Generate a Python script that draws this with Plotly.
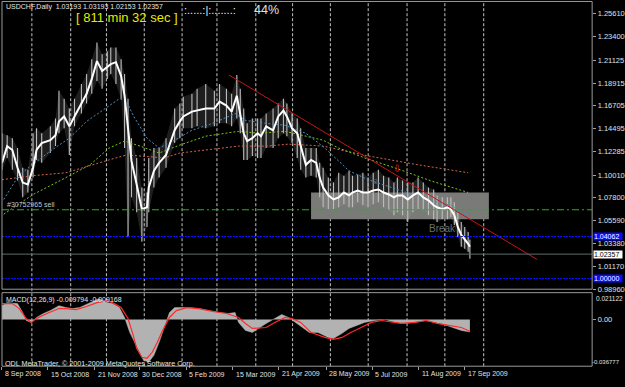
import plotly.graph_objects as go

W, H = 625, 387
def px(x): return x / W
def py(y): return 1 - y / H

# ---------------- data (bar numbers on x, prices on y) ----------------
bar_idx = [0,3,6,9,12,15,18,20,23,28,31,33,36,39,42,46,49,52,55,58,61,63,66,69,71,73,75,78,81,84,85,88,91,
           95,100,103,105,110,113,118,123,126,130,133,136,138,140,142,145,148,150,153,157,160,163,165,168,171,173,
           176,179,182,184,186,189,192,195,198,201,203,206,209,212,215,218,221,224,227,229,232,235,238,241,244,247,
           250,252,255,258,260,262,264,266,268,270,271]
close_ma = [1.1119,1.1281,1.1243,1.1071,1.0928,1.0909,1.1071,1.1243,1.1310,1.1338,
            1.1386,1.1520,1.1568,1.1472,1.1568,1.1692,1.1787,1.1931,1.2103,1.2007,
            1.2045,1.2074,1.2093,1.1959,1.1768,1.1453,1.1138,1.0909,1.0670,1.0689,
            1.0880,1.1042,1.1119,
            1.1195,1.1434,1.1520,1.1568,1.1615,1.1625,1.1644,1.1644,1.1711,1.1673,
            1.1615,1.1768,1.1577,1.1405,1.1329,1.1358,1.1405,1.1377,1.1472,1.1434,
            1.1568,1.1625,1.1568,1.1453,1.1405,1.1281,1.1100,1.1147,1.1119,1.0976,
            1.0880,1.0804,1.0765,1.0785,1.0832,1.0804,1.0832,1.0851,1.0832,1.0832,
            1.0851,1.0861,1.0832,1.0813,1.0785,1.0804,1.0804,1.0765,1.0804,1.0832,
            1.0785,1.0756,1.0708,1.0689,1.0670,1.0689,1.0670,1.0613,1.0498,1.0422,
            1.0383,1.0336,1.0307]
bar_high = [1.1405,1.1386,1.1358,1.1262,1.1071,1.1052,1.1405,1.1453,1.1405,1.1472,
            1.1549,1.1816,1.1740,1.1644,1.1740,1.1883,1.1978,1.2122,1.2284,1.2169,
            1.2198,1.2236,1.2236,1.2122,1.1978,1.1740,1.1358,1.1167,1.0880,1.0832,
            1.1167,1.1262,1.1262,
            1.1358,1.1644,1.1692,1.1759,1.1787,1.1835,1.1883,1.1816,1.1883,1.1835,
            1.1787,1.1969,1.1835,1.1644,1.1501,1.1549,1.1549,1.1549,1.1596,1.1644,
            1.1692,1.1740,1.1692,1.1596,1.1549,1.1453,1.1262,1.1262,1.1262,1.1119,
            1.1071,1.0976,1.0928,1.1023,1.0995,1.1042,1.0995,1.1004,1.1023,1.0976,
            1.1023,1.1052,1.0995,1.0976,1.0928,1.0976,1.0947,1.0928,1.0928,1.0976,
            1.0928,1.0880,1.0861,1.0804,1.0785,1.0785,1.0785,1.0737,1.0641,1.0546,
            1.0498,1.0450,1.0374]
bar_low = [1.1052,1.1167,1.1052,1.0947,1.0785,1.0832,1.0976,1.1147,1.1119,1.1214,
           1.1281,1.1405,1.1453,1.1195,1.1472,1.1596,1.1692,1.1787,1.1912,1.1835,
           1.1931,1.1978,1.1883,1.1740,1.1262,1.0402,1.0785,1.0641,1.0355,1.0498,
           1.0641,1.0880,1.0976,
           1.1071,1.1310,1.1358,1.1453,1.1453,1.1472,1.1453,1.1472,1.1501,1.1501,
           1.1472,1.1549,1.1405,1.1147,1.1147,1.1186,1.1167,1.1167,1.1262,1.1262,
           1.1358,1.1405,1.1377,1.1310,1.1167,1.1052,1.0976,1.0995,1.0976,1.0785,
           1.0689,1.0670,1.0670,1.0689,1.0718,1.0689,1.0689,1.0737,1.0708,1.0689,
           1.0718,1.0737,1.0689,1.0660,1.0613,1.0641,1.0613,1.0546,1.0641,1.0670,
           1.0660,1.0613,1.0574,1.0546,1.0574,1.0574,1.0594,1.0517,1.0402,1.0307,
           1.0288,1.0259,1.0192]

ma_blue_idx = [1,10,28,39,49,61,68,72,76,84,91,99,110,122,135,141,153,164,176,187,201,212,224,235,248,260,270]
ma_blue = [1.0765,1.1004,1.1233,1.1358,1.1520,1.1663,1.1740,1.1720,1.1577,1.1358,1.1262,1.1329,1.1434,1.1501,
           1.1596,1.1530,1.1501,1.1482,1.1405,1.1262,1.1042,1.0956,1.0890,1.0823,1.0756,1.0708,1.0594]
ma_green_idx = [1,18,37,51,62,71,80,91,103,118,137,149,164,173,186,195,210,229,248,270]
ma_green = [1.0622,1.0813,1.0976,1.1100,1.1262,1.1329,1.1281,1.1214,1.1291,1.1377,1.1424,1.1405,1.1424,1.1386,
            1.1338,1.1262,1.1167,1.1062,1.0947,1.0832]
ma_brown_idx = [0,18,37,52,62,72,81,94,103,118,137,153,166,176,186,212,241,270]
ma_brown = [1.0956,1.0995,1.1023,1.1100,1.1147,1.1195,1.1186,1.1167,1.1214,1.1243,1.1281,1.1281,1.1300,1.1291,
            1.1281,1.1186,1.1100,1.1023]

trend_idx = [131.4, 310]
trend_val = [1.1969, 1.0183]
box_idx = [179, 282]
box_val = [1.0574, 1.0832]
sell_level = 1.0665
blue_levels = [1.04062, 1.00000]
bid_level = 1.02357

macd_idx = [0,3,9,12,14,17,20,24,28,31,33,37,41,45,50,54,56,61,64,68,71,74,77,80,82,85,88,91,94,97,
            100,104,108,114,120,126,131,135,137,141,145,149,153,158,162,166,170,173,178,183,189,192,197,201,
            205,210,216,222,228,233,239,245,251,256,261,266,271]
macd_val = [0.0109,0.0133,0.0125,0.0055,-0.0008,-0.0023,0.0016,0.0047,0.0070,0.0094,
            0.0109,0.0094,0.0086,0.0094,0.0125,0.0149,0.0164,0.0133,0.0125,0.0094,
            0.0016,-0.0102,-0.0188,-0.0266,-0.0321,-0.0336,-0.0282,-0.0180,-0.0070,0.0055,
            0.0094,0.0094,0.0094,0.0086,0.0070,0.0055,0.0047,0.0055,-0.0023,-0.0086,
            -0.0102,-0.0063,-0.0031,0.0008,0.0039,0.0016,-0.0023,-0.0047,-0.0102,-0.0102,
            -0.0141,-0.0149,-0.0109,-0.0070,-0.0047,-0.0023,-0.0008,0.0000,-0.0023,-0.0031,
            -0.0023,-0.0008,-0.0023,-0.0039,-0.0063,-0.0086,-0.0098]
sig_idx = [0,6,10,14,17,20,26,33,37,43,49,55,61,65,69,73,76,78,81,84,87,90,93,97,101,107,114,122,130,137,
           141,145,153,158,164,168,173,179,187,192,197,202,208,214,220,225,231,239,246,252,260,266,271]
sig_val = [0.0125,0.0125,0.0086,0.0008,-0.0023,0.0008,0.0047,0.0086,0.0086,0.0078,
           0.0102,0.0133,0.0149,0.0125,0.0094,0.0008,-0.0125,-0.0227,-0.0297,-0.0305,
           -0.0258,-0.0180,-0.0086,0.0016,0.0070,0.0094,0.0086,0.0063,0.0047,0.0016,
           -0.0031,-0.0070,-0.0063,-0.0023,0.0016,0.0008,-0.0023,-0.0102,-0.0141,-0.0156,
           -0.0141,-0.0102,-0.0063,-0.0023,-0.0008,-0.0016,-0.0031,-0.0023,-0.0008,-0.0031,
           -0.0047,-0.0063,-0.0092]
macd_max, macd_min = 0.021122, -0.036777

price_ticks = [1.25610,1.23400,1.21125,1.18915,1.16705,1.14495,1.12285,1.10010,1.07800,1.05590,1.03380,1.01170,0.98960]
date_labels = ["8 Sep 2008","15 Oct 2008","21 Nov 2008","30 Dec 2008","5 Feb 2009","15 Mar 2009",
               "21 Apr 2009","28 May 2009","5 Jul 2009","11 Aug 2009","17 Sep 2009"]
date_idx = [0,26.5,53.6,79.5,106.6,133.7,160.2,187.9,214.4,241.5,268]
month_grid = [17.3,39.8,60.5,82.4,104.3,124.5,147,168.3,190.2,212.1,234.6,256.5,279]

FONT = "Liberation Sans, Arial, sans-serif"
fig = go.Figure()

# ---------------- main panel ----------------
fig.add_trace(go.Scatter(x=bar_idx + bar_idx[::-1], y=bar_high + bar_low[::-1], fill='toself',
                         fillcolor='rgba(150,150,150,0.2)', line=dict(width=0), hoverinfo='skip'))
bx, by = [], []
for i, h, l in zip(bar_idx, bar_high, bar_low):
    bx += [i, i, None]; by += [l, h, None]
fig.add_trace(go.Scatter(x=bx, y=by, mode='lines', line=dict(color='#bdbdbd', width=1.1)))
for xs, ys, col in [(ma_brown_idx, ma_brown, '#d0644a'), (ma_green_idx, ma_green, '#7cc418'),
                    (ma_blue_idx, ma_blue, '#4b8fc0')]:
    fig.add_trace(go.Scatter(x=xs, y=ys, mode='lines', line=dict(color=col, width=1, dash='2px,2px')))
fig.add_trace(go.Scatter(x=bar_idx, y=close_ma, mode='lines', line=dict(color='white', width=2)))
fig.add_trace(go.Scatter(x=trend_idx, y=trend_val, mode='lines', line=dict(color='#c81414', width=1)))

# ---------------- MACD panel ----------------
fig.add_trace(go.Scatter(x=macd_idx, y=macd_val, xaxis='x2', yaxis='y2', fill='tozeroy',
                         fillcolor='#b2b2b2', mode='lines', line=dict(color='#b2b2b2', width=0.5)))
fig.add_trace(go.Scatter(x=sig_idx, y=sig_val, xaxis='x2', yaxis='y2', mode='lines',
                         line=dict(color='#ff2a2a', width=1.2)))

shapes = []
shapes.append(dict(type='rect', xref='x', yref='y', x0=box_idx[0], x1=box_idx[1], y0=box_val[0], y1=box_val[1],
                   fillcolor='#7a7a78', line=dict(width=0), layer='below'))
for g in month_grid:
    shapes.append(dict(type='line', xref='x', yref='paper', x0=g, x1=g, y0=py(371), y1=py(2),
                       line=dict(color='#c4c4c4', width=1, dash='3px,2px'), layer='below'))
shapes.append(dict(type='line', xref='paper', yref='y', x0=px(2), x1=px(595), y0=sell_level, y1=sell_level,
                   line=dict(color='#10c010', width=1, dash='7px,3px,2px,3px')))
for lv in blue_levels:
    shapes.append(dict(type='line', xref='paper', yref='y', x0=px(2), x1=px(595), y0=lv, y1=lv,
                       line=dict(color='#1010ff', width=1, dash='2px,1px')))
shapes.append(dict(type='line', xref='paper', yref='y', x0=px(2), x1=px(595), y0=bid_level, y1=bid_level,
                   line=dict(color='#5e6e6e', width=1)))
shapes.append(dict(type='rect', xref='paper', yref='paper', x0=px(2), x1=px(595), y0=py(293), y1=py(1.5),
                   line=dict(color='#9a9a9a', width=1)))
shapes.append(dict(type='rect', xref='paper', yref='paper', x0=px(2), x1=px(595), y0=py(371), y1=py(296.5),
                   line=dict(color='#9a9a9a', width=1)))

ann = []
def txt(x, y, s, size, color, xa='left', **kw):
    ann.append(dict(x=px(x), y=py(y), xref='paper', yref='paper', text=s, showarrow=False, xanchor=xa,
                    yanchor='middle', font=dict(size=size, color=color, family=FONT), **kw))

txt(4, 7, "USDCHF,Daily&nbsp;&nbsp;1.03193 1.03193 1.02153 1.02357", 7, '#e6e6e6')
txt(74, 17.5, "[ 811 min 32 sec ]", 13, '#e8e800')
txt(183, 10, ":.....:|:.......:", 11, '#f0f0f0')
txt(253, 10, "44%", 12.5, '#e0e0e0')
txt(5, 207.5, "#30752965 sell", 7, '#b8c4d4')
txt(429, 231, "Break", 10, '#6c6c6c')
txt(399, 171, "⇩", 10, '#d82020', xa='center')
txt(377, 184, "B", 7, '#4a6484', xa='center')
txt(4, 304, "MACD(12,26,9) -0.009794 -0.009168", 7, '#e6e6e6')
txt(3, 368.5, "ODL MetaTrader, © 2001-2009 MetaQuotes Software Corp.", 7.2, '#e6e6e6')
txt(597, 302, f"{macd_max:.6f}", 6.5, '#e0e0e0')
txt(624.5, 367, f"{macd_min:.6f}", 6, '#e0e0e0', xa='right')

for lab, i in zip(date_labels, date_idx):
    ann.append(dict(x=i, y=py(379), xref='x', yref='paper', text=lab, showarrow=False, xanchor='left',
                    yanchor='middle', xshift=1, font=dict(size=7, color='#e0e0e0', family=FONT)))
for lv, bg, fg in [(blue_levels[0], '#0a0aff', '#ffffff'), (bid_level, '#ffffff', '#000000'),
                   (blue_levels[1], '#0a0aff', '#ffffff')]:
    ann.append(dict(x=px(596), y=lv, xref='paper', yref='y', text=f"{lv:.5f}", showarrow=False, xanchor='left',
                    yanchor='middle', bgcolor=bg, borderpad=0, width=28, height=6.5, align='left',
                    font=dict(size=7, color=fg, family=FONT)))

fig.update_layout(
    width=W, height=H, margin=dict(l=0, r=0, t=0, b=0),
    paper_bgcolor='black', plot_bgcolor='black', showlegend=False,
    font=dict(family=FONT, size=7.5, color='#e0e0e0'),
    xaxis=dict(domain=[px(2), px(595)], range=[0, 341.8], showgrid=False, zeroline=False,
               showticklabels=False, ticks='', anchor='y', fixedrange=True),
    xaxis2=dict(domain=[px(2), px(595)], matches='x', anchor='y2', showgrid=False, zeroline=False,
                tickmode='array', tickvals=date_idx, ticks='outside', ticklen=3, tickcolor='#a0a0a0',
                showticklabels=False),
    yaxis=dict(domain=[py(293), py(2)], range=[0.98962, 1.26756], side='right', anchor='x',
               tickmode='array', tickvals=price_ticks, ticktext=[f"{v:.5f}" for v in price_ticks],
               ticks='outside', ticklen=3, tickcolor='#a0a0a0', showgrid=False, zeroline=False,
               tickfont=dict(size=7.5, color='#e0e0e0')),
    yaxis2=dict(domain=[py(371), py(296.5)], range=[macd_min, macd_max], side='right', anchor='x2',
                tickmode='array', tickvals=[0], ticktext=['0.00'], ticks='outside', ticklen=3,
                tickcolor='#a0a0a0', showgrid=False, zeroline=False, tickfont=dict(size=7.5, color='#e0e0e0')),
    shapes=shapes, annotations=ann,
)
fig.write_html("out.html")
